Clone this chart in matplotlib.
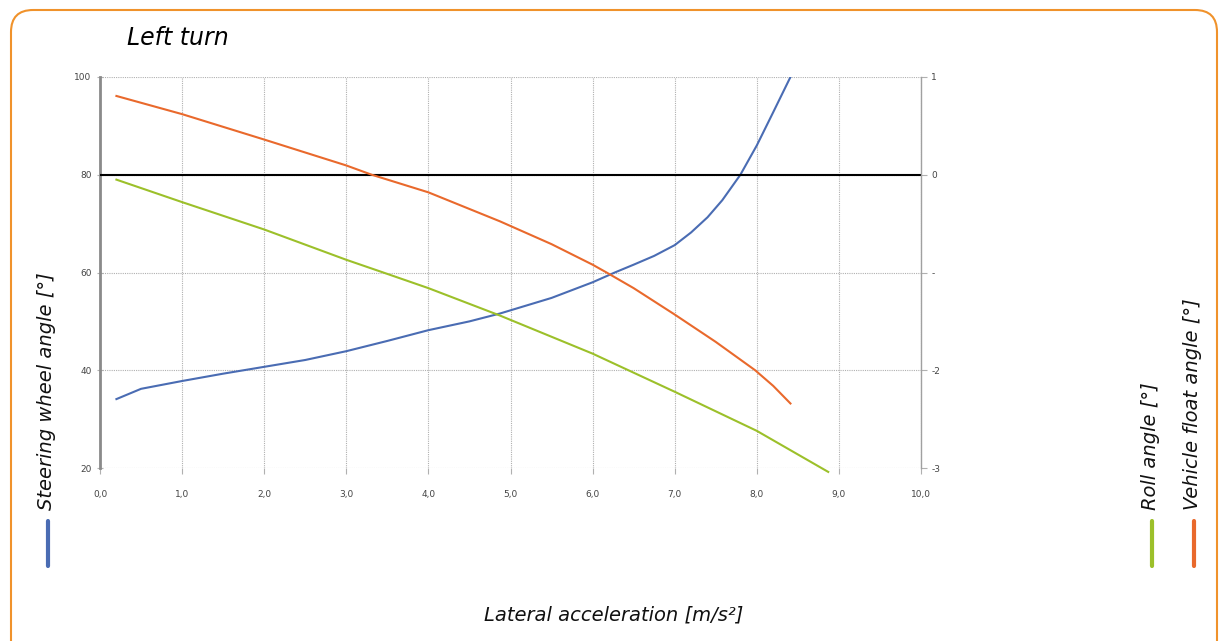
import matplotlib
matplotlib.use('Agg')
import matplotlib.pyplot as plt
from matplotlib.patches import FancyBboxPatch
from matplotlib.lines import Line2D
import numpy as np

# values
steer_x = [0.2, 0.5, 1.0, 1.5, 2.0, 2.5, 3.0, 3.5, 4.0, 4.5, 4.87, 5.5, 6.0, 6.27, 6.5, 6.75, 7.0, 7.2, 7.4, 7.58, 7.8, 8.0, 8.2, 8.41]
steer_y = [34.1, 36.2, 37.8, 39.3, 40.7, 42.1, 43.9, 46.0, 48.2, 50.0, 51.6, 54.8, 58.0, 60.0, 61.6, 63.4, 65.6, 68.2, 71.3, 74.8, 80.0, 86.0, 92.8, 100.0]

float_x = [0.2, 1.0, 2.0, 3.0, 3.31, 4.0, 4.87, 5.5, 6.0, 6.17, 6.5, 7.0, 7.5, 7.98, 8.2, 8.41]
float_y = [0.806, 0.62, 0.36, 0.095, 0.0, -0.18, -0.476, -0.71, -0.92, -1.0, -1.16, -1.43, -1.71, -2.0, -2.16, -2.34]

roll_x = [0.2, 1.0, 2.0, 3.0, 3.45, 4.0, 4.87, 6.0, 7.0, 8.0, 8.87]
roll_y = [-0.05, -0.28, -0.56, -0.87, -1.0, -1.16, -1.44, -1.83, -2.22, -2.62, -3.04]

x_ticks = [0, 1, 2, 3, 4, 5, 6, 7, 8, 9, 10]
x_labels = ['%d,0' % t for t in x_ticks]
left_ticks = [20, 40, 60, 80, 100]
right_ticks = [-3, -2, -1, 0, 1]
right_labels = ['-3', '-2', '-', '0', '1']

BLUE = '#4a6cb3'
ORANGE = '#e9692c'
GREEN = '#9cc02a'
GRIDC = '#b0b0b0'

W, H = 1224, 641
fig = plt.figure(figsize=(W / 100, H / 100), dpi=100)

# orange rounded frame (cut by the right/bottom edges)
frame = FancyBboxPatch((11 / W, -30 / H), (1217 - 11) / W, (H - 10 + 30) / H,
                       boxstyle='round,pad=0,rounding_size=0.018',
                       transform=fig.transFigure, fill=False,
                       edgecolor='#f0922b', linewidth=1.5, mutation_aspect=W / H)
fig.patches.append(frame)

ax = fig.add_axes([100 / W, (H - 468) / H, (921 - 100) / W, (468 - 77) / H])
ax2 = ax.twinx()

ax.set_xlim(0, 10)
ax.set_ylim(20, 100)
ax2.set_ylim(-3, 1)

ax.set_xticks(x_ticks)
ax.set_xticklabels(x_labels)
ax.set_yticks(left_ticks)
ax2.set_yticks(right_ticks)
ax2.set_yticklabels(right_labels)

for a in (ax, ax2):
    for s in a.spines.values():
        s.set_visible(False)
    a.tick_params(labelsize=6.5, colors='#444444', length=4, width=0.8)
    a.patch.set_visible(False)
ax.tick_params(axis='both', color=GRIDC)
ax2.tick_params(axis='y', color=GRIDC)
ax.spines['left'].set_visible(True)
ax.spines['left'].set_color('#8a8a8a')
ax.spines['left'].set_linewidth(2)
ax2.spines['right'].set_visible(True)
ax2.spines['right'].set_color('#a0a0a0')
ax2.spines['right'].set_linewidth(1)
ax.tick_params(axis='x', pad=12)
ax.tick_params(axis='y', direction='inout', pad=4)

ax.grid(True, color=GRIDC, linestyle=(0, (1, 1)), linewidth=0.8)
ax.set_axisbelow(True)

ax2.axhline(0, color='black', linewidth=1.5, zorder=2)
ax.plot(steer_x, steer_y, color=BLUE, linewidth=1.5, zorder=3)
ax2.plot(float_x, float_y, color=ORANGE, linewidth=1.5, zorder=3)
ax2.plot(roll_x, roll_y, color=GREEN, linewidth=1.5, zorder=3, clip_on=False)

lab = dict(fontsize=14, style='italic', family='DejaVu Sans', color='#111111')
fig.text(127 / W, 1 - 38 / H, 'Left turn', fontsize=17, style='italic',
         family='DejaVu Sans', va='center', ha='left')
fig.text(47 / W, 1 - 510 / H, 'Steering wheel angle [°]', rotation=90,
         ha='center', va='bottom', **lab)
fig.text(614 / W, 1 - 615 / H, 'Lateral acceleration [m/s²]', ha='center', va='center', **lab)
fig.text(1150 / W, 1 - 510 / H, 'Roll angle [°]', rotation=90, ha='center', va='bottom', **lab)
fig.text(1193 / W, 1 - 510 / H, 'Vehicle float angle [°]', rotation=90,
         ha='center', va='bottom', **lab)

for xp, c in ((48, BLUE), (1152, GREEN), (1194, ORANGE)):
    fig.add_artist(Line2D([xp / W, xp / W], [1 - 521 / H, 1 - 566 / H],
                          color=c, linewidth=3, transform=fig.transFigure,
                          solid_capstyle='round'))

fig.savefig('out.png', dpi=100)
